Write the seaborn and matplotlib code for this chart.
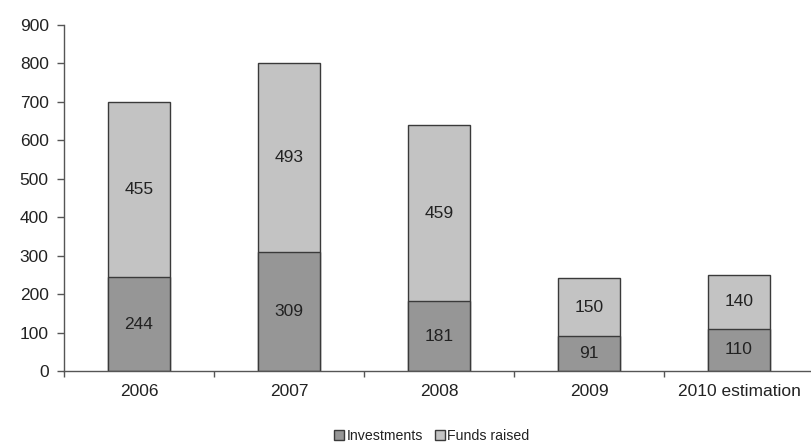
import matplotlib
matplotlib.use("Agg")
import matplotlib.pyplot as plt
from matplotlib.patches import Patch
import seaborn as sns
import pandas as pd
import numpy as np

years = ["2006", "2007", "2008", "2009", "2010 estimation"]
investments = [244, 309, 181, 91, 110]
funds_raised = [455, 493, 459, 150, 140]

sns.set_style("white")
plt.rcParams["font.family"] = ["Liberation Sans", "DejaVu Sans"]

df = pd.DataFrame({"year": years, "Investments": investments, "Funds raised": funds_raised})
df["total"] = df["Investments"] + df["Funds raised"]

fig = plt.figure(figsize=(8.12, 4.46), dpi=100)
ax = fig.add_axes([64 / 812, 1 - 371 / 446, 750 / 812, 346 / 446])

dark = "#969696"
light = "#c3c3c3"
edge = "#3a3a3a"
txt = "#222222"
fs = 12.5

sns.barplot(data=df, x="year", y="total", color=light, edgecolor=edge, linewidth=1.0,
            width=0.41, saturation=1, ax=ax)
sns.barplot(data=df, x="year", y="Investments", color=dark, edgecolor=edge, linewidth=1.0,
            width=0.41, saturation=1, ax=ax)

for i, (inv, fr) in enumerate(zip(investments, funds_raised)):
    ax.text(i, inv / 2, f"{inv}", ha="center", va="center", fontsize=fs, color=txt)
    ax.text(i, inv + fr / 2, f"{fr}", ha="center", va="center", fontsize=fs, color=txt)

ax.set_xlim(-0.5, 4.5)
ax.set_ylim(0, 900)
ax.set_yticks(range(0, 901, 100))
ax.set_xlabel("")
ax.set_ylabel("")

for side in ["top", "right"]:
    ax.spines[side].set_visible(False)
for side in ["left", "bottom"]:
    ax.spines[side].set_color("#555555")
    ax.spines[side].set_linewidth(1.0)

ax.tick_params(axis="y", which="major", direction="out", length=5, width=1,
               color="#555555", labelsize=fs, labelcolor=txt, pad=6, left=True)
ax.tick_params(axis="x", which="major", length=0, labelsize=fs, labelcolor=txt, pad=9)
ax.set_xticks(np.arange(-0.5, 5.0, 1.0), minor=True)
ax.tick_params(axis="x", which="minor", direction="out", length=4, width=1,
               color="#555555", bottom=True)

handles = [Patch(facecolor=dark, edgecolor=edge, label="Investments"),
           Patch(facecolor=light, edgecolor=edge, label="Funds raised")]
fig.legend(handles=handles, loc="center", bbox_to_anchor=(432 / 812, 1 - 436 / 446),
           ncol=2, frameon=False, fontsize=10.2, handlelength=0.7, handleheight=0.7,
           handletextpad=0.2, columnspacing=0.8, borderpad=0, labelcolor=txt)

fig.savefig("out.png", dpi=100)
